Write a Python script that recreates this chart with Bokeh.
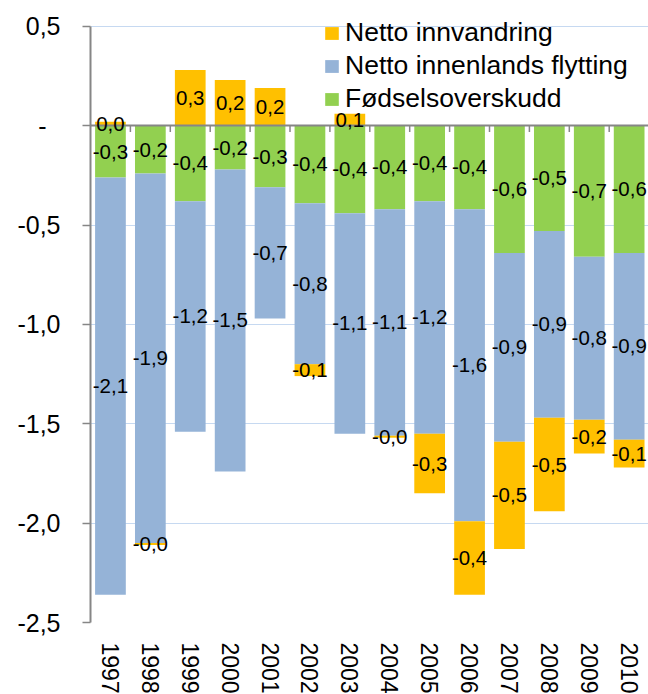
import numpy as np
from bokeh.plotting import figure
from bokeh.models import FixedTicker, Legend, LegendItem, ColumnDataSource
from bokeh.core.properties import value
from bokeh.embed import file_html
from bokeh.resources import INLINE

years = ["1997", "1998", "1999", "2000", "2001", "2002", "2003",
         "2004", "2005", "2006", "2007", "2008", "2009", "2010"]
innvandring = [0.02, -0.01, 0.28, 0.23, 0.19, -0.06, 0.06,
               -0.01, -0.30, -0.37, -0.54, -0.47, -0.17, -0.14]
innenlands = [-2.10, -1.86, -1.16, -1.52, -0.66, -0.81, -1.11,
              -1.14, -1.17, -1.57, -0.95, -0.94, -0.82, -0.94]
fodsel = [-0.26, -0.24, -0.38, -0.22, -0.31, -0.39, -0.44,
          -0.42, -0.38, -0.42, -0.64, -0.53, -0.66, -0.64]
y_ticks = [-2.5, -2.0, -1.5, -1.0, -0.5, 0.0, 0.5]
series_names = ["Netto innvandring", "Netto innenlands flytting", "Fødselsoverskudd"]

FONT = "Liberation Sans"
C_ORANGE = "#FFC000"
C_BLUE = "#95B3D7"
C_GREEN = "#92D050"
C_AXIS = "#868686"
C_GRID = "#C6D9F1"

def fmt(v):
    return f"{v:.1f}".replace(".", ",")

x = np.arange(len(years), dtype=float)
g = np.array(fodsel)
b = np.array(innenlands)
o = np.array(innvandring)

g_top, g_bot = np.zeros_like(g), g
b_top, b_bot = g, g + b
o_bot = np.where(o >= 0, 0.0, g + b + o)
o_top = np.where(o >= 0, o, g + b)

p = figure(frame_width=558, frame_height=616,
           x_range=(-0.5, 13.485), y_range=(-2.5, 0.6),
           output_backend="svg", toolbar_location=None,
           min_border_left=90, min_border_right=0,
           min_border_top=6, min_border_bottom=72)
p.outline_line_color = None
p.background_fill_color = "white"
p.border_fill_color = "white"

# grid
p.xgrid.visible = False
p.ygrid.grid_line_color = C_GRID
p.ygrid.grid_line_width = 1.2
p.ygrid.ticker = FixedTicker(ticks=y_ticks)

# y axis
p.yaxis.ticker = FixedTicker(ticks=y_ticks)
p.yaxis.bounds = (min(y_ticks), max(y_ticks))
p.yaxis.major_label_overrides = {
    t: ("-\u00a0\u00a0" if t == 0 else fmt(t)) for t in y_ticks
}
p.yaxis.axis_line_color = C_AXIS
p.yaxis.axis_line_width = 2
p.yaxis.major_tick_line_color = C_AXIS
p.yaxis.major_tick_line_width = 1.5
p.yaxis.major_tick_out = 8
p.yaxis.major_tick_in = 0
p.yaxis.minor_tick_line_color = None
p.yaxis.major_label_standoff = 22
p.yaxis.major_label_text_font = FONT
p.yaxis.major_label_text_font_size = "25px"
p.yaxis.major_label_text_color = "black"

# x axis (labels only)
p.xaxis.ticker = FixedTicker(ticks=list(x))
p.xaxis.major_label_overrides = {float(i): yr for i, yr in zip(x, years)}
p.xaxis.major_label_overrides.update({int(i): yr for i, yr in zip(x, years)})
p.xaxis.axis_line_color = None
p.xaxis.major_tick_line_color = None
p.xaxis.minor_tick_line_color = None
p.xaxis.major_label_orientation = -np.pi / 2
p.xaxis.major_label_standoff = 14
p.xaxis.major_label_text_font = FONT
p.xaxis.major_label_text_font_size = "23px"
p.xaxis.major_label_text_color = "black"

W = 0.77
src = ColumnDataSource(dict(x=x, g_top=g_top, g_bot=g_bot, b_top=b_top, b_bot=b_bot,
                            o_top=o_top, o_bot=o_bot))
r_g = p.vbar(x="x", width=W, top="g_top", bottom="g_bot", source=src,
             fill_color=C_GREEN, line_color=None)
r_b = p.vbar(x="x", width=W, top="b_top", bottom="b_bot", source=src,
             fill_color=C_BLUE, line_color=None)
r_o = p.vbar(x="x", width=W, top="o_top", bottom="o_bot", source=src,
             fill_color=C_ORANGE, line_color=None)

# zero line with category-boundary ticks
p.hspan(y=[0.0], line_color=C_AXIS, line_width=2)
bounds = np.arange(len(years)) + 0.5
p.segment(x0=bounds, x1=bounds, y0=np.zeros_like(bounds), y1=np.full_like(bounds, -0.032),
          line_color=C_AXIS, line_width=1.5)

# data labels
lab_x = np.concatenate([x, x, x])
lab_y = np.concatenate([(g_top + g_bot) / 2, (b_top + b_bot) / 2, (o_top + o_bot) / 2])
lab_t = [fmt(v) for v in np.concatenate([g, b, o])]
p.text(x=lab_x, y=lab_y, text=lab_t, text_align="center", text_baseline="middle",
       text_font=value(FONT), text_font_size="20.5px", text_color="black")

legend = Legend(items=[LegendItem(label=series_names[0], renderers=[r_o]),
                       LegendItem(label=series_names[1], renderers=[r_b]),
                       LegendItem(label=series_names[2], renderers=[r_g])],
                location=(233, 508), orientation="vertical")
legend.background_fill_alpha = 0
legend.border_line_color = None
legend.padding = 0
legend.margin = 0
legend.spacing = 2
legend.glyph_width = 17
legend.glyph_height = 16
legend.label_standoff = 5
legend.label_text_font = FONT
legend.label_text_font_size = "26.5px"
legend.label_text_color = "black"
p.add_layout(legend)

open("out.html", "w").write(file_html(p, INLINE))
